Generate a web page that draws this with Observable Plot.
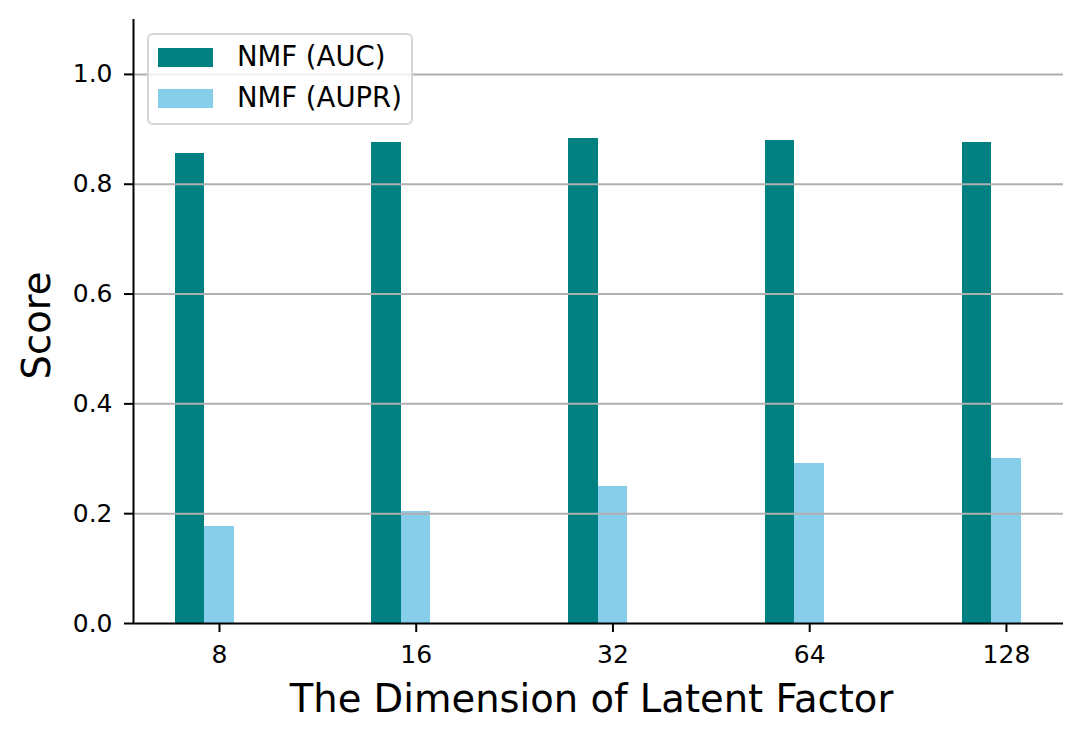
<!DOCTYPE html>
<html>
<head>
<meta charset="utf-8">
<script src="https://cdn.jsdelivr.net/npm/d3@7"></script>
<script src="https://cdn.jsdelivr.net/npm/@observablehq/plot@0.6"></script>
<style>
  html, body { margin: 0; padding: 0; background: white; }
  #wrap { position: relative; width: 1082px; height: 740px; font-family: "DejaVu Sans", sans-serif; }
  #legend { position: absolute; left: 147px; top: 33px; width: 262px; height: 88px;
    border: 2px solid #d6d6d6; border-radius: 6px; background: rgba(255,255,255,0.8); box-sizing: content-box; }
  .row { position: absolute; left: 9px; display: flex; align-items: center; height: 20px; }
  .sw { width: 55px; height: 19px; }
  .lab { position: absolute; left: 79px; font-size: 27.5px; white-space: nowrap; line-height: 1; color: #000; }
</style>
</head>
<body>
<div id="wrap"></div>
<script>
const dims = ["8", "16", "32", "64", "128"];
const aucValues = [0.856, 0.876, 0.883, 0.880, 0.876];
const auprValues = [0.177, 0.204, 0.250, 0.291, 0.301];
const seriesNames = ["NMF (AUC)", "NMF (AUPR)"];
const seriesColors = ["#008080", "#87CEEB"];
const yTicks = [0, 0.2, 0.4, 0.6, 0.8, 1.0];

const barWidth = 0.15;
const xDomain = [-0.437, 4.29];
const seriesValues = [aucValues, auprValues];

const data = [];
seriesValues.forEach((vals, s) => {
  vals.forEach((v, i) => {
    const center = i + (s - 1) * barWidth;
    data.push({ series: seriesNames[s], dim: dims[i], idx: i, value: v,
      x1: center - barWidth / 2, x2: center + barWidth / 2 });
  });
});

const chart = Plot.plot({
  width: 1082,
  height: 740,
  marginLeft: 133,
  marginRight: 19,
  marginTop: 19,
  marginBottom: 117,
  style: { fontFamily: "DejaVu Sans", background: "white", color: "black" },
  x: { type: "linear", domain: xDomain, axis: null },
  y: { domain: [0, 1.1], axis: null },
  color: { domain: seriesNames, range: seriesColors },
  marks: [
    Plot.rectY(data, { x1: "x1", x2: "x2", y1: 0, y2: "value", fill: "series", inset: 0, shapeRendering: "crispEdges" }),
    Plot.gridY(yTicks.filter(t => t > 0), { stroke: "#b0b0b0", strokeOpacity: 1, strokeWidth: 2 }),
    Plot.ruleY([0], { stroke: "black", strokeWidth: 2 }),
    Plot.ruleX([xDomain[0]], { stroke: "black", strokeWidth: 2 }),
    Plot.axisY(yTicks, { tickFormat: d => d.toFixed(1), tickSize: 9, tickPadding: 12, fontSize: 25, strokeWidth: 2, label: null }),
    Plot.axisX(d3.range(dims.length), { tickFormat: i => dims[i], tickSize: 9, tickPadding: 13, fontSize: 25, strokeWidth: 2, label: null }),
    Plot.text(["Score"], { frameAnchor: "left", dx: -96, dy: 4, rotate: -90, fontSize: 38.5, lineAnchor: "middle", textAnchor: "middle" }),
    Plot.text(["The Dimension of Latent Factor"], { frameAnchor: "bottom", dx: -7, dy: 76, fontSize: 38.5, lineAnchor: "middle", textAnchor: "middle" })
  ]
});

const wrap = document.getElementById("wrap");
wrap.appendChild(chart);

const legend = document.createElement("div");
legend.id = "legend";
seriesNames.forEach((name, s) => {
  const row = document.createElement("div");
  row.className = "row";
  row.style.top = (12 + s * 41) + "px";
  row.style.width = "250px";
  const sw = document.createElement("div");
  sw.className = "sw";
  sw.style.background = seriesColors[s];
  const lab = document.createElement("span");
  lab.className = "lab";
  lab.textContent = name;
  row.appendChild(sw);
  row.appendChild(lab);
  legend.appendChild(row);
});
wrap.appendChild(legend);
</script>
</body>
</html>
